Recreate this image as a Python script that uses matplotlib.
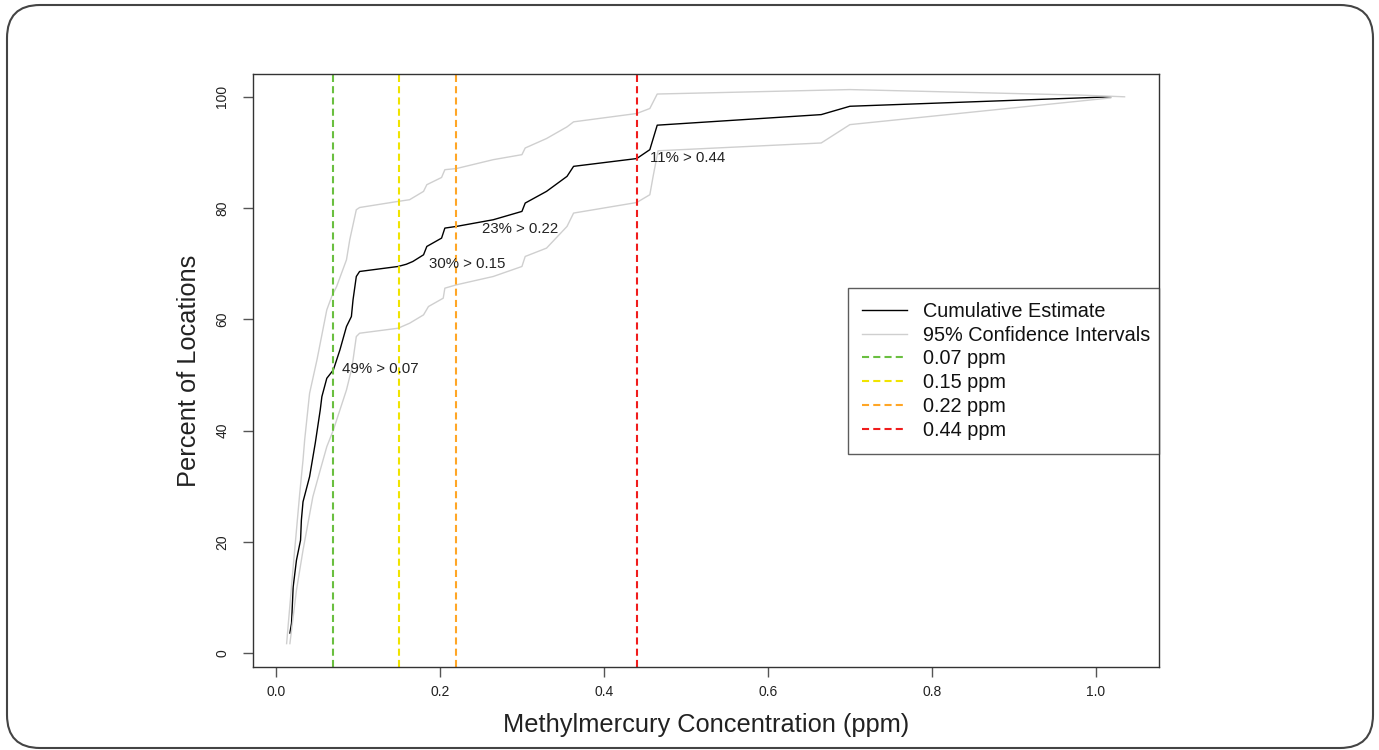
import matplotlib
matplotlib.use("Agg")
import matplotlib.pyplot as plt
from matplotlib.patches import FancyBboxPatch

plt.rcParams["font.family"] = ["Liberation Sans", "DejaVu Sans"]

# cumulative estimate (ppm, percent)
est_x = [0.017, 0.019, 0.021, 0.025, 0.030, 0.031, 0.033, 0.041, 0.048, 0.054,
         0.056, 0.062, 0.070, 0.078, 0.086, 0.092, 0.094, 0.098, 0.102, 0.149,
         0.159, 0.167, 0.180, 0.184, 0.202, 0.206, 0.220, 0.265, 0.300, 0.304,
         0.330, 0.355, 0.363, 0.440, 0.456, 0.465, 0.665, 0.700, 1.018]
est_y = [3.6, 5.4, 11.9, 16.7, 20.3, 23.9, 27.2, 31.7, 37.8, 43.7,
         46.1, 49.4, 50.9, 54.5, 58.7, 60.5, 63.5, 67.7, 68.6, 69.5,
         69.9, 70.4, 71.6, 73.1, 74.6, 76.4, 76.7, 77.9, 79.4, 80.9,
         83.0, 85.7, 87.5, 88.9, 90.5, 94.9, 96.8, 98.3, 100.0]

# upper 95% bound
up_x = [0.013, 0.021, 0.029, 0.033, 0.035, 0.041, 0.050, 0.062, 0.068, 0.074,
        0.086, 0.090, 0.098, 0.102, 0.149, 0.163, 0.180, 0.184, 0.202, 0.206,
        0.220, 0.265, 0.300, 0.304, 0.330, 0.355, 0.363, 0.440, 0.456, 0.465,
        0.700, 0.983, 1.035]
up_y = [1.7, 15.5, 28.7, 34.7, 38.3, 46.7, 52.7, 61.7, 64.1, 65.9,
        70.7, 74.3, 79.7, 80.1, 81.2, 81.5, 83.0, 84.2, 85.5, 86.9,
        87.1, 88.7, 89.6, 90.8, 92.5, 94.6, 95.5, 97.0, 97.9, 100.5,
        101.3, 100.3, 100.0]

# lower 95% bound
lo_x = [0.017, 0.025, 0.033, 0.045, 0.054, 0.062, 0.070, 0.078, 0.086, 0.092,
        0.094, 0.098, 0.102, 0.149, 0.163, 0.180, 0.186, 0.204, 0.206, 0.220,
        0.265, 0.300, 0.304, 0.330, 0.355, 0.363, 0.440, 0.456, 0.460, 0.466,
        0.665, 0.700, 1.018]
lo_y = [1.7, 11.3, 18.5, 28.1, 32.9, 37.1, 40.1, 43.7, 47.3, 50.9,
        52.7, 56.9, 57.5, 58.4, 59.3, 60.8, 62.3, 63.8, 65.6, 66.2,
        67.7, 69.5, 71.3, 72.8, 76.7, 79.1, 81.0, 82.4, 85.7, 90.3,
        91.7, 95.0, 99.8]

thresholds = [0.07, 0.15, 0.22, 0.44]
thr_colors = ["#6abf40", "#f0e400", "#ffa626", "#f01c1c"]
thr_labels = ["0.07 ppm", "0.15 ppm", "0.22 ppm", "0.44 ppm"]
exceed_text = ["49% > 0.07", "30% > 0.15", "23% > 0.22", "11% > 0.44"]
text_pos = [(0.080, 51.0), (0.187, 70.0), (0.251, 76.3), (0.456, 89.0)]

W, H = 1379, 750
fig = plt.figure(figsize=(W / 100, H / 100), dpi=100)

# rounded slide frame
frame = FancyBboxPatch((7 / W, 2 / H), 1366 / W, 743 / H,
                       boxstyle="round,pad=0,rounding_size=0.024",
                       transform=fig.transFigure, fill=False,
                       ec="#444444", lw=1.5, mutation_aspect=W / H)
fig.patches.append(frame)

ax = fig.add_axes([253 / W, 1 - 667 / H, (1159 - 253) / W, (667 - 74) / H])

ax.plot(est_x, est_y, color="black", lw=1.0, label="Cumulative Estimate")
ax.plot(up_x, up_y, color="#cfcfcf", lw=1.0, label="95% Confidence Intervals")
ax.plot(lo_x, lo_y, color="#cfcfcf", lw=1.0)
for t, c, lab in zip(thresholds, thr_colors, thr_labels):
    ax.axvline(t, color=c, ls=(0, (3.4, 2.0)), lw=1.5, label=lab)

for (tx, ty), s in zip(text_pos, exceed_text):
    ax.text(tx, ty, s, fontsize=10.8, color="#222222", ha="left", va="center")

ax.set_xlim(-0.028, 1.077)
ax.set_ylim(-2.5, 104.1)
ax.set_xticks([0.0, 0.2, 0.4, 0.6, 0.8, 1.0])
ax.set_xticklabels(["0.0", "0.2", "0.4", "0.6", "0.8", "1.0"])
ax.set_yticks([0, 20, 40, 60, 80, 100])
ax.set_yticklabels(["0", "20", "40", "60", "80", "100"], rotation=90, va="center")
ax.tick_params(direction="out", length=7, width=1, color="#555555",
               labelsize=10, labelcolor="#222222", pad=6)
ax.tick_params(axis="y", pad=10)
for sp in ax.spines.values():
    sp.set_color("#333333")
    sp.set_linewidth(1)

ax.set_xlabel("Methylmercury Concentration (ppm)", fontsize=18.3, color="#222222", labelpad=10)
ax.set_ylabel("Percent of Locations", fontsize=18.3, color="#222222", labelpad=10)

leg_x0 = (848 - 253) / 906
leg_y1 = (667 - 288) / 593
leg = ax.legend(loc="upper left", bbox_to_anchor=(leg_x0, leg_y1, 1 - leg_x0, 0.0),
                mode="expand", fontsize=14.3, frameon=True, fancybox=False,
                edgecolor="#333333", handlelength=2.25, handletextpad=0.85,
                labelspacing=0.24, borderpad=0.7, borderaxespad=0)
leg.get_frame().set_linewidth(1)
for t in leg.get_texts():
    t.set_color("#111111")

fig.savefig("out.png", dpi=100)
